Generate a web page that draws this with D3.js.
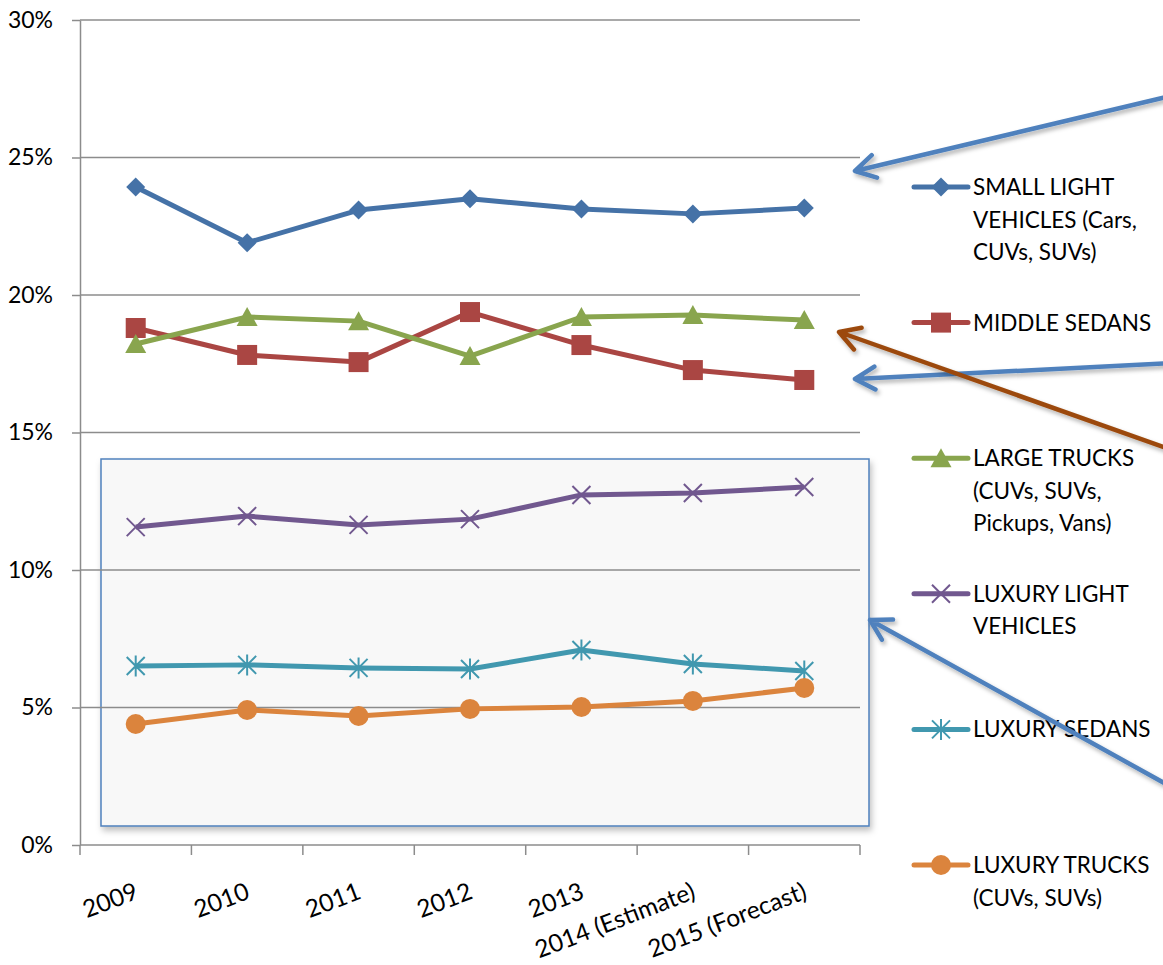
<!DOCTYPE html>
<html>
<head>
<meta charset="utf-8">
<script src="https://cdn.jsdelivr.net/npm/d3@7"></script>
<style>
    body { margin: 0; background: #fff; }
    text { font-family: Lato, "Open Sans", sans-serif; fill: #000; }
</style>
</head>
<body>
<svg id="chart"></svg>
<script>
// category labels along the x axis
const YEARS = ["2009", "2010", "2011", "2012", "2013", "2014 (Estimate)", "2015 (Forecast)"];

// market share in percent
const SMALL_LIGHT = [23.93, 21.9, 23.09, 23.5, 23.13, 22.95, 23.16];
const MIDDLE_SEDANS = [18.8, 17.82, 17.56, 19.38, 18.18, 17.27, 16.91];
const LARGE_TRUCKS = [18.22, 19.2, 19.05, 17.78, 19.2, 19.27, 19.09];
const LUXURY_LIGHT = [11.56, 11.96, 11.64, 11.85, 12.73, 12.8, 13.02];
const LUXURY_SEDANS = [6.51, 6.55, 6.44, 6.4, 7.09, 6.58, 6.33];
const LUXURY_TRUCKS = [4.4, 4.91, 4.69, 4.95, 5.02, 5.24, 5.71];

const Y_TICKS = [0, 5, 10, 15, 20, 25, 30];

// legend labels, one entry per line of text
const LEGEND_LABELS = [
    ["SMALL LIGHT", "VEHICLES (Cars,", "CUVs, SUVs)"],
    ["MIDDLE SEDANS"],
    ["LARGE TRUCKS", "(CUVs, SUVs,", "Pickups, Vans)"],
    ["LUXURY LIGHT", "VEHICLES"],
    ["LUXURY SEDANS"],
    ["LUXURY TRUCKS", "(CUVs, SUVs)"]
];

const SERIES = [
    { values: SMALL_LIGHT, color: "#4572a7", marker: "diamond" },
    { values: MIDDLE_SEDANS, color: "#aa4643", marker: "square" },
    { values: LARGE_TRUCKS, color: "#89a54e", marker: "triangle" },
    { values: LUXURY_LIGHT, color: "#71588f", marker: "x" },
    { values: LUXURY_SEDANS, color: "#4198af", marker: "star" },
    { values: LUXURY_TRUCKS, color: "#db843d", marker: "circle" }
];

const WIDTH = 1163;
const HEIGHT = 965;
const LEFT = 80, RIGHT = 860, TOP = 20, BOTTOM = 845;
const GRID = "#8c8c8c";

window.onload = function(){
    drawChart();
};

// draws one marker shape centred on 0,0 inside g
function drawMarker(g, type, color){
    if (type === "diamond"){
        g.append("path").attr("d", "M0,-9.5L9.5,0L0,9.5L-9.5,0Z").attr("fill", color);
    } else if (type === "square"){
        g.append("rect").attr("x", -10).attr("y", -10).attr("width", 20).attr("height", 20).attr("fill", color);
    } else if (type === "triangle"){
        g.append("path").attr("d", "M0,-10L10.5,9L-10.5,9Z").attr("fill", color);
    } else if (type === "circle"){
        g.append("circle").attr("r", 10).attr("fill", color);
    } else {
        let d = "M-9,-9L9,9M9,-9L-9,9";
        if (type === "star") d += "M0,-10.5L0,10.5";
        g.append("path").attr("d", d).attr("stroke", color)
            .attr("stroke-width", 2).attr("fill", "none");
    }
}

function drawChart(){
    let svg = d3.select("#chart")
        .attr("width", WIDTH)
        .attr("height", HEIGHT);

    let defs = svg.append("defs");
    defs.append("filter").attr("id", "shadow")
        .attr("x", "-10%").attr("y", "-10%").attr("width", "130%").attr("height", "130%")
        .append("feDropShadow")
        .attr("dx", 2).attr("dy", 4).attr("stdDeviation", 3)
        .attr("flood-color", "#000").attr("flood-opacity", 0.25);
    defs.append("filter").attr("id", "arrowShadow")
        .attr("x", "-10%").attr("y", "-50%").attr("width", "120%").attr("height", "200%")
        .append("feDropShadow")
        .attr("dx", 2).attr("dy", 3).attr("stdDeviation", 2)
        .attr("flood-color", "#000").attr("flood-opacity", 0.3);

    let xScale = d3.scaleBand()
        .domain(YEARS)
        .range([LEFT, RIGHT]);
    let cx = function(d){ return xScale(d) + xScale.bandwidth() / 2; };

    let yScale = d3.scaleLinear()
        .domain([0, 30])
        .range([BOTTOM, TOP]);

    // highlight box around the luxury series
    svg.append("rect")
        .attr("x", 101).attr("y", 459)
        .attr("width", 768).attr("height", 367)
        .attr("fill", "#f8f8f8")
        .attr("stroke", "#4f81bd")
        .attr("stroke-width", 1.5)
        .attr("filter", "url(#shadow)");

    // horizontal gridlines
    svg.append("g")
        .selectAll("line")
        .data(Y_TICKS.filter(function(d){ return d > 0; }))
        .enter()
        .append("line")
        .attr("x1", LEFT).attr("x2", RIGHT)
        .attr("y1", function(d){ return yScale(d); })
        .attr("y2", function(d){ return yScale(d); })
        .attr("stroke", GRID)
        .attr("stroke-width", 1.5);

    // y axis
    let yAxis = svg.append("g")
        .attr("transform", "translate(" + LEFT + ",0)")
        .call(d3.axisLeft(yScale)
            .tickValues(Y_TICKS)
            .tickFormat(function(d){ return d + "%"; })
            .tickSize(8)
            .tickSizeOuter(0)
            .tickPadding(19));
    yAxis.selectAll("path, line").attr("stroke", GRID).attr("stroke-width", 1.5);
    yAxis.selectAll("text")
        .style("font-family", "Lato, sans-serif")
        .style("font-size", "23px")
        .attr("fill", "#000");

    // x axis line with ticks between the categories
    svg.append("line")
        .attr("x1", LEFT).attr("x2", RIGHT)
        .attr("y1", BOTTOM).attr("y2", BOTTOM)
        .attr("stroke", GRID).attr("stroke-width", 1.5);
    svg.append("g")
        .selectAll("line")
        .data(YEARS.concat(["end"]))
        .enter()
        .append("line")
        .attr("x1", function(d){ return d === "end" ? RIGHT : xScale(d); })
        .attr("x2", function(d){ return d === "end" ? RIGHT : xScale(d); })
        .attr("y1", BOTTOM).attr("y2", BOTTOM + 10)
        .attr("stroke", GRID).attr("stroke-width", 1.5);

    svg.append("g")
        .selectAll("text")
        .data(YEARS)
        .enter()
        .append("text")
        .text(function(d){ return d; })
        .attr("transform", function(d){
            return "translate(" + (cx(d) + 4) + "," + (BOTTOM + 53) + ") rotate(-21)";
        })
        .attr("text-anchor", "end")
        .style("font-size", "24.5px");

    // series lines and markers
    let line = d3.line()
        .x(function(d, i){ return cx(YEARS[i]); })
        .y(function(d){ return yScale(d); });

    SERIES.forEach(function(s){
        svg.append("path")
            .datum(s.values)
            .attr("d", line)
            .attr("fill", "none")
            .attr("stroke", s.color)
            .attr("stroke-width", 5)
            .attr("stroke-linejoin", "round");

        svg.append("g")
            .selectAll("g")
            .data(s.values)
            .enter()
            .append("g")
            .attr("transform", function(d, i){
                return "translate(" + cx(YEARS[i]) + "," + yScale(d) + ")";
            })
            .each(function(){ drawMarker(d3.select(this), s.marker, s.color); });
    });

    // legend
    let legend = svg.append("g").attr("transform", "translate(914,187)");
    SERIES.forEach(function(s, i){
        let item = legend.append("g").attr("transform", "translate(0," + (i * 135.6) + ")");
        item.append("line")
            .attr("x1", 0).attr("x2", 54)
            .attr("stroke", s.color)
            .attr("stroke-width", 5)
            .attr("stroke-linecap", "round");
        drawMarker(item.append("g").attr("transform", "translate(27,0)"), s.marker, s.color);
        item.append("text")
            .attr("x", 59)
            .attr("y", 8)
            .style("font-size", "22.5px")
            .selectAll("tspan")
            .data(LEGEND_LABELS[i])
            .enter()
            .append("tspan")
            .attr("x", 59)
            .attr("dy", function(d, j){ return j === 0 ? 0 : 32.5; })
            .text(function(d){ return d; });
    });

    // callout arrows pointing into the chart
    const ARROWS = [
        { from: [1175, 95], to: [855, 171], color: "#4f81bd" },
        { from: [1175, 363], to: [855, 379], color: "#4f81bd" },
        { from: [1175, 451], to: [839, 332], color: "#9c4a0c" },
        { from: [1175, 789], to: [870, 620], color: "#4f81bd" }
    ];
    ARROWS.forEach(function(a){
        let g = svg.append("g").attr("filter", "url(#arrowShadow)");
        let ang = Math.atan2(a.from[1] - a.to[1], a.from[0] - a.to[0]);
        let len = 23, spread = Math.PI / 6;
        let p1 = [a.to[0] + len * Math.cos(ang - spread), a.to[1] + len * Math.sin(ang - spread)];
        let p2 = [a.to[0] + len * Math.cos(ang + spread), a.to[1] + len * Math.sin(ang + spread)];
        g.append("path")
            .attr("d", "M" + a.from + "L" + a.to + "M" + p1 + "L" + a.to + "L" + p2)
            .attr("fill", "none")
            .attr("stroke", a.color)
            .attr("stroke-width", 4.5)
            .attr("stroke-linecap", "round")
            .attr("stroke-linejoin", "round");
    });
}
</script>
</body>
</html>
